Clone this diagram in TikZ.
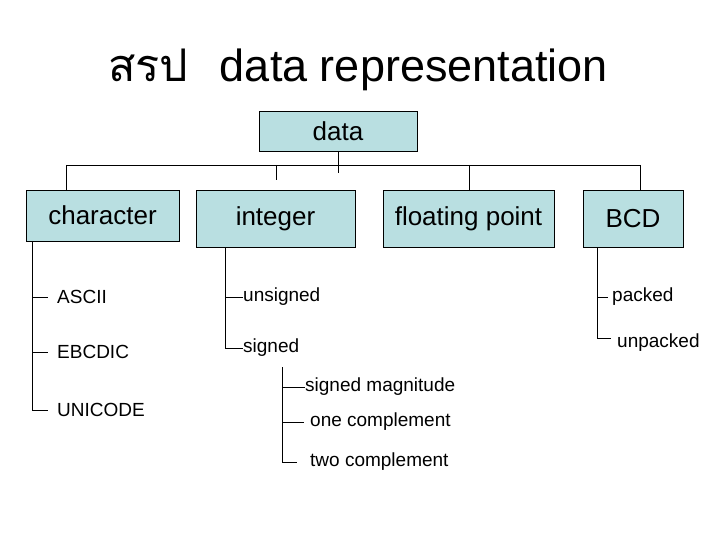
\documentclass[tikz,border=0pt]{standalone}
\usepackage{fontspec}
\setmainfont{Liberation Sans}
\newfontfamily\thaifont[Script=Thai]{Loma}
\usetikzlibrary{positioning}
\definecolor{boxfill}{RGB}{185,223,225}
\tikzset{
	box/.style = {draw=black, fill=boxfill, inner sep=0pt, font=\fontsize{26}{30}\selectfont},
	leaf/.style = {anchor=west, inner sep=0pt, font=\fontsize{19}{22}\selectfont},
	link/.style = {draw=black, line width=0.6pt}
}
\begin{document}
\begin{tikzpicture}[x=1pt,y=-1pt]
\useasboundingbox (0,0) rectangle (720,540);
\node at (358,70) {\fontsize{45}{50}\selectfont{\thaifont สรป}\hspace{0.7em}data representation};
% boxes
\node [box, minimum width=158, minimum height=40] (data) at (338,131) {data};
\node [box, minimum width=153, minimum height=51] (char) at (102.5,215.5) {character};
\node [box, minimum width=159, minimum height=57] (int) at (275.5,218.5) {integer};
\node [box, minimum width=171, minimum height=57] (float) at (468.5,218.5) {floating point};
\node [box, minimum width=100, minimum height=57] (bcd) at (633,218.5) {BCD};
% leaves
\node [leaf] (ascii) at (57,297) {ASCII};
\node [leaf] (ebcdic) at (57,352) {EBCDIC};
\node [leaf] (unicode) at (57,410) {UNICODE};
\node [leaf] (unsigned) at (243,297) {unsigned};
\node [leaf] (signed) at (243,348) {signed};
\node [leaf] (smag) at (305,387) {signed magnitude};
\node [leaf] (onec) at (310,422) {one complement};
\node [leaf] (twoc) at (310,462) {two complement};
\node [leaf] (packed) at (612,297) {packed};
\node [leaf] (unpacked) at (617,343) {unpacked};
% bus
\coordinate (busl) at (66,165);
\coordinate (busr) at (640,165);
\draw [link] (data.south) -- ++(0,22);
\draw [link] (busl) -- (busr);
\draw [link] (busl) -- (char.north -| busl);
\draw [link] (276,165) -- (276,180);
\draw [link] (469,165) -- (float.north -| 469,165);
\draw [link] (busr) -- (bcd.north -| busr);
% character
\draw [link] (32,241) |- (48,410);
\draw [link] (32,297) -- (48,297);
\draw [link] (32,352) -- (48,352);
% integer
\draw [link] (225,247) |- (signed.west);
\draw [link] (225,297) -- (unsigned.west);
\draw [link] (282,367) |- (297,462);
\draw [link] (282,387) -- (smag.west);
\draw [link] (282,422) -- (304,422);
% bcd
\draw [link] (597,247) |- (611,338);
\draw [link] (597,297) -- (608,297);
\end{tikzpicture}
\end{document}
